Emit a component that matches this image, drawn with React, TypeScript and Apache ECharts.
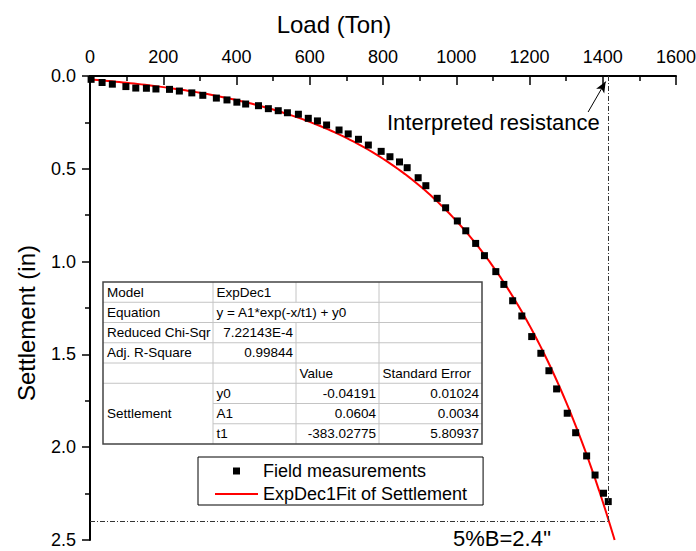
import React, { useEffect, useRef } from "react";
import * as echarts from "echarts";

const FONT = "'Liberation Sans', Arial, Helvetica, sans-serif";

// Field load test readings: applied load (Ton) and measured settlement (in)
const loads = [
  3, 33, 61, 98, 125, 154, 180, 217, 244, 278, 308, 345, 374, 401, 425, 460, 487, 514,
  539, 569, 596, 621, 646, 680, 705, 733, 760, 795, 819, 845, 866, 896, 917, 948, 971,
  1003, 1026, 1053, 1077, 1108, 1130, 1154, 1179, 1206, 1231, 1253, 1274, 1303, 1326,
  1356, 1379, 1402, 1415,
];
const settlements = [
  0.018, 0.035, 0.044, 0.057, 0.065, 0.066, 0.07, 0.072, 0.081, 0.091, 0.104, 0.119,
  0.129, 0.141, 0.151, 0.16, 0.176, 0.187, 0.198, 0.206, 0.228, 0.242, 0.264, 0.291,
  0.312, 0.341, 0.372, 0.406, 0.435, 0.463, 0.494, 0.548, 0.591, 0.659, 0.71, 0.781,
  0.834, 0.902, 0.968, 1.054, 1.123, 1.211, 1.293, 1.404, 1.494, 1.588, 1.686, 1.817,
  1.922, 2.047, 2.15, 2.248, 2.293,
];

// ExpDec1 fit parameters
const paramNames = ["y0", "A1", "t1"];
const paramValues = [-0.04191, 0.0604, -383.02775];
const paramValueText = ["-0.04191", "0.0604", "-383.02775"];
const paramErrorText = ["0.01024", "0.0034", "5.80937"];
const fitInfo = [
  ["Model", "ExpDec1"],
  ["Equation", "y = A1*exp(-x/t1) + y0"],
  ["Reduced Chi-Sqr", "7.22143E-4"],
  ["Adj. R-Square", "0.99844"],
];

// Axis settings and criteria
const xTicks = [0, 1600, 200];
const yTicks = [0, 2.5, 0.5];
const interpretedLoad = 1414;
const settlementLimit = 2.4;

function fitCurve(): number[][] {
  const [y0, A1, t1] = paramValues;
  const f = (x: number) => A1 * Math.exp(-x / t1) + y0;
  const xEnd = -t1 * Math.log((yTicks[1] - y0) / A1);
  const pts: number[][] = [];
  for (let x = 0; x < xEnd; x += 10) pts.push([x, f(x)]);
  pts.push([xEnd, f(xEnd)]);
  return pts;
}

function tableGraphic() {
  const colX = [103, 213, 296, 379, 482];
  const top = 282;
  const rowH = 20.25;
  const nRows = 8;
  const bottom = top + nRows * rowH;
  const els: any[] = [];
  const lineStyle = { stroke: "#c4c4c4", lineWidth: 1 };
  els.push({
    type: "rect",
    shape: { x: colX[0], y: top, width: colX[4] - colX[0], height: bottom - top },
    style: { fill: "#fff", stroke: "none" },
  });
  for (let i = 1; i < nRows; i++) {
    const y = top + i * rowH;
    const x1 = i === 6 || i === 7 ? colX[1] : colX[0];
    els.push({ type: "line", shape: { x1, y1: y, x2: colX[4], y2: y }, style: lineStyle });
  }
  for (let j = 1; j < 4; j++) {
    const x = colX[j];
    if (j === 2) {
      els.push({ type: "line", shape: { x1: x, y1: top, x2: x, y2: top + rowH }, style: lineStyle });
      els.push({ type: "line", shape: { x1: x, y1: top + 2 * rowH, x2: x, y2: bottom }, style: lineStyle });
    } else {
      els.push({ type: "line", shape: { x1: x, y1: top, x2: x, y2: bottom }, style: lineStyle });
    }
  }
  els.push({
    type: "rect",
    shape: { x: colX[0], y: top, width: colX[4] - colX[0], height: bottom - top },
    style: { fill: "none", stroke: "#444", lineWidth: 1.5 },
  });
  const cell = (text: string, row: number, col: number, align: "left" | "right", rows = 1) => {
    const x = align === "left" ? colX[col] + (col === 0 ? 4 : 3.5) : colX[col + 1] - 3;
    const y = top + (row + rows / 2) * rowH;
    els.push({
      type: "text",
      x,
      y,
      style: {
        text,
        fill: "#000",
        fontSize: 13.5,
        fontFamily: FONT,
        align,
        textAlign: align,
        verticalAlign: "middle",
        textVerticalAlign: "middle",
      },
    });
  };
  fitInfo.forEach(([label, value], i) => {
    cell(label, i, 0, "left");
    cell(value, i, 1, i < 2 ? "left" : "right");
  });
  cell("Value", 4, 2, "left");
  cell("Standard Error", 4, 3, "left");
  cell("Settlement", 5, 0, "left", 3);
  paramNames.forEach((name, i) => {
    cell(name, 5 + i, 1, "left");
    cell(paramValueText[i], 5 + i, 2, "right");
    cell(paramErrorText[i], 5 + i, 3, "right");
  });
  return { type: "group", z: 50, children: els };
}

function textEl(text: string, x: number, y: number, fontSize: number, align: string, rotation = 0) {
  return {
    type: "text",
    x,
    y,
    rotation,
    z: 40,
    style: {
      text,
      fill: "#000",
      fontSize,
      fontFamily: FONT,
      align,
      textAlign: align,
      verticalAlign: "middle",
      textVerticalAlign: "middle",
    },
  };
}

export default function App() {
  const ref = useRef<HTMLDivElement>(null);

  useEffect(() => {
    document.body.style.margin = "0";
    if (!ref.current) return;
    const chart = echarts.init(ref.current, undefined, { renderer: "svg" });
    const points = loads.map((x, i) => [x, settlements[i]]);

    const option: any = {
      animation: false,
      backgroundColor: "#fff",
      textStyle: { fontFamily: FONT },
      grid: { left: 90, right: 20, top: 76, bottom: 11, containLabel: false, outerBoundsMode: "none" },
      xAxis: {
        type: "value",
        position: "top",
        min: xTicks[0],
        max: xTicks[1],
        interval: xTicks[2],
        axisLine: { show: true, onZero: false, lineStyle: { color: "#000", width: 2 } },
        axisTick: { show: true, inside: true, length: 9, lineStyle: { color: "#000", width: 1.5 } },
        minorTick: { show: true, splitNumber: 2, length: 5, lineStyle: { color: "#000", width: 1.5 } },
        splitLine: { show: false },
        axisLabel: {
          show: true,
          fontSize: 18,
          color: "#000",
          margin: 10,
          fontFamily: FONT,
          formatter: (v: number) => String(v),
        },
      },
      yAxis: {
        type: "value",
        inverse: true,
        min: yTicks[0],
        max: yTicks[1],
        interval: yTicks[2],
        axisLine: { show: true, onZero: false, lineStyle: { color: "#000", width: 2 } },
        axisTick: { show: true, inside: false, length: 8, lineStyle: { color: "#000", width: 1.5 } },
        minorTick: { show: true, splitNumber: 2, length: 5, lineStyle: { color: "#000", width: 1.5 } },
        splitLine: { show: false },
        axisLabel: {
          show: true,
          fontSize: 18,
          color: "#000",
          margin: 14,
          fontFamily: FONT,
          formatter: (v: number) => v.toFixed(1),
        },
      },
      legend: {
        show: true,
        orient: "vertical",
        left: 198,
        top: 457,
        padding: [5, 16, 2, 16],
        itemGap: 5,
        itemWidth: 43,
        itemHeight: 7,
        symbolKeepAspect: true,
        backgroundColor: "#fff",
        borderColor: "#000",
        borderWidth: 1,
        selectedMode: false,
        textStyle: { fontSize: 18, color: "#000", fontFamily: FONT },
        data: [
          { name: "Field measurements", icon: "path://M0 0H10V10H0Z" },
          { name: "ExpDec1Fit of Settlement", itemStyle: { opacity: 0 } },
        ],
        z: 30,
      },
      series: [
        {
          name: "ExpDec1Fit of Settlement",
          type: "line",
          data: fitCurve(),
          symbol: "none",
          showSymbol: false,
          lineStyle: { color: "#ff0000", width: 2 },
          itemStyle: { color: "#ff0000" },
          z: 2,
        },
        {
          name: "Field measurements",
          type: "scatter",
          data: points,
          symbol: "rect",
          symbolSize: 7,
          itemStyle: { color: "#000", opacity: 1 },
          z: 3,
          markLine: {
            silent: true,
            symbol: ["none", "none"],
            label: { show: false },
            lineStyle: { color: "#333", width: 1, type: [5, 2, 1, 2] },
            data: [
              [{ coord: [interpretedLoad, 0] }, { coord: [interpretedLoad, settlementLimit] }],
              [{ coord: [0, settlementLimit] }, { coord: [interpretedLoad, settlementLimit] }],
              [
                { coord: [1360, 0.194], symbol: "none", lineStyle: { type: "solid", color: "#000", width: 1 } },
                { coord: [1408, 0.03], symbol: "arrow", symbolSize: [7, 11] },
              ],
            ],
          },
        },
      ],
      graphic: [
        textEl("Load (Ton)", 334, 24, 24, "center"),
        textEl("Settlement (in)", 26, 323, 24, "center", Math.PI / 2),
        textEl("Interpreted resistance", 387, 122, 22, "left"),
        textEl("5%B=2.4''", 453, 538, 22, "left"),
        tableGraphic(),
      ],
    };

    chart.setOption(option);
    return () => chart.dispose();
  }, []);

  return <div ref={ref} style={{ width: 696, height: 551 }} />;
}
